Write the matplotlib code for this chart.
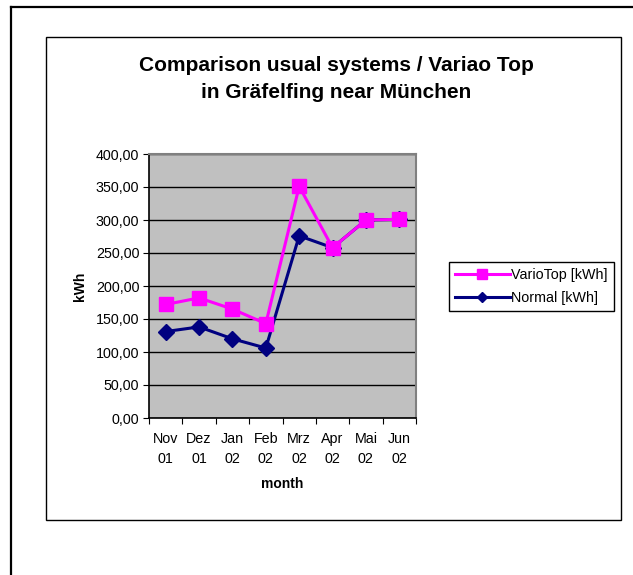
import numpy as np
import matplotlib
matplotlib.use('Agg')
import matplotlib.pyplot as plt
from matplotlib.patches import Rectangle
from matplotlib.lines import Line2D

plt.rcParams['font.family'] = ['Liberation Sans', 'DejaVu Sans']

months = ['Nov\n01', 'Dez\n01', 'Jan\n02', 'Feb\n02', 'Mrz\n02', 'Apr\n02', 'Mai\n02', 'Jun\n02']
vario_top = [172, 182, 165, 143, 351, 258, 300, 301]
normal = [131, 138, 120, 106, 276, 258, 300, 301]
y_ticks = [0, 50, 100, 150, 200, 250, 300, 350, 400]

W, H = 633, 575
fig = plt.figure(figsize=(W / 100, H / 100), dpi=100)


def fx(px):
    return px / W


def fy(py):
    return 1 - py / H


# outer frame (top and left edges only visible)
fig.add_artist(Line2D([fx(11), 1.0], [fy(7), fy(7)], color='black', lw=1.6))
fig.add_artist(Line2D([fx(11), fx(11)], [fy(7), 0.0], color='black', lw=1.6))

# chart area box
fig.add_artist(Rectangle((fx(46), fy(520)), fx(621) - fx(46), fy(37) - fy(520),
                         transform=fig.transFigure, fill=False, ec='black', lw=1.0))

left, right, top, bottom = 149, 416, 154, 418
ax = fig.add_axes([fx(left), fy(bottom), fx(right) - fx(left), fy(top) - fy(bottom)])
ax.set_facecolor('#c0c0c0')

x = np.arange(len(months))
ax.plot(x, normal, color='#000080', lw=2.2, marker='D', markersize=8,
        label='Normal [kWh]', zorder=3)
ax.plot(x, vario_top, color='#ff00ff', lw=2.2, marker='s', markersize=10,
        label='VarioTop [kWh]', zorder=4)

ax.set_xlim(-0.5, len(months) - 0.5)
ax.set_ylim(0, 400)
ax.set_yticks(y_ticks)
ax.set_yticklabels(['%d,00' % v for v in y_ticks], fontsize=10.3)
ax.yaxis.grid(True, color='black', lw=1.0)
ax.set_axisbelow(True)

ax.set_xticks(np.arange(-0.5, len(months), 1.0))
ax.set_xticklabels([])
ax.set_xticks(x, minor=True)
ax.set_xticklabels(months, minor=True, fontsize=10.3, linespacing=1.55)
ax.tick_params(axis='x', which='major', direction='out', length=4, color='black')
ax.tick_params(axis='x', which='minor', length=0, pad=10)
ax.tick_params(axis='y', direction='out', length=4, pad=3)

for s in ['top', 'right']:
    ax.spines[s].set_color('#808080')
    ax.spines[s].set_linewidth(1.5)
for s in ['left', 'bottom']:
    ax.spines[s].set_color('black')
    ax.spines[s].set_linewidth(1.2)

ax.set_xlabel('month', fontsize=10, fontweight='bold', labelpad=8)
ax.set_ylabel('kWh', fontsize=10, fontweight='bold', labelpad=6)

fig.text(fx(336), fy(79), 'Comparison usual systems / Variao Top\nin Gräfelfing near München',
         ha='center', va='center', fontsize=15, fontweight='bold', linespacing=1.5)

handles, labels = ax.get_legend_handles_labels()
leg = fig.legend(handles[::-1], labels[::-1], loc='center right',
                 bbox_to_anchor=(fx(614), fy(286.5)), fontsize=10.3, frameon=True,
                 fancybox=False, edgecolor='black', framealpha=1, handlelength=3.8,
                 markerscale=0.7, borderpad=0.45, labelspacing=0.6,
                 handletextpad=0.1, borderaxespad=0)
leg.get_frame().set_linewidth(1.0)

fig.savefig('out.png', dpi=100)
